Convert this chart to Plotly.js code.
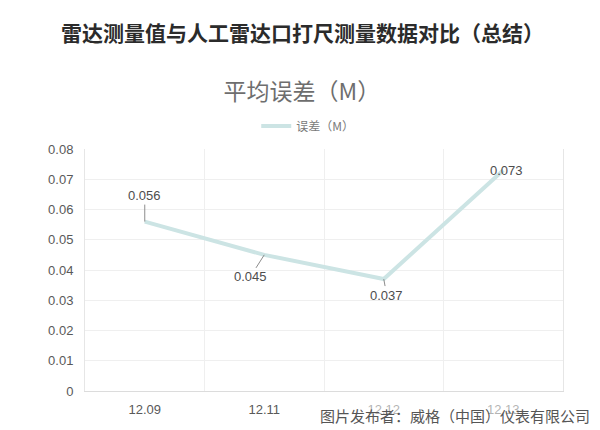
<!DOCTYPE html>
<html>
<head>
<meta charset="utf-8">
<script src="https://cdn.plot.ly/plotly-3.0.1.min.js"></script>
<style>html,body{margin:0;padding:0;background:#fff;}#chart{width:600px;height:430px;}</style>
</head>
<body>
<div id="chart"></div>
<script>
const categories = ["12.09", "12.11", "12.12", "12.13"];
const errorValues = [0.056, 0.045, 0.037, 0.073];
const yTickValues = [0, 0.01, 0.02, 0.03, 0.04, 0.05, 0.06, 0.07, 0.08];
const yTickLabels = ["0", "0.01", "0.02", "0.03", "0.04", "0.05", "0.06", "0.07", "0.08"];
const seriesName = "误差（M）";
const chartTitle = "平均误差（M）";
const headerText = "雷达测量值与人工雷达口打尺测量数据对比（总结）";
const watermarkText = "图片发布者：威格（中国）仪表有限公司";
const labelOffsets = [[0, -26], [-14, 22], [3, 16], [0, 0]];

const font = "'Noto Sans CJK SC', 'Liberation Sans', Arial, sans-serif";

const trace = {
  type: "scatter",
  mode: "lines",
  x: categories,
  y: errorValues,
  name: seriesName,
  line: {color: "#cce4e4", width: 4},
  hoverinfo: "none"
};

const annotations = errorValues.map((v, i) => {
  const [ax, ay] = labelOffsets[i];
  const hasArrow = !(ax === 0 && ay === 0);
  return {
    x: categories.indexOf(categories[i]), y: v, xref: "x", yref: "y",
    text: String(v),
    showarrow: hasArrow,
    arrowhead: 0, arrowwidth: 1, arrowcolor: "#8c8c8c",
    ax: ax, ay: ay,
    yshift: 0,
    xshift: hasArrow ? 0 : 3,
    font: {family: "'Liberation Sans', Arial, sans-serif", size: 13, color: "#4d4d4d"}
  };
});

annotations.push({
  xref: "paper", yref: "paper", x: 0.454, y: 1.483,
  xanchor: "center", yanchor: "middle", showarrow: false,
  text: "<b>" + headerText + "</b>",
  font: {family: font, size: 21, color: "#2b2b2b"}
});
annotations.push({
  xref: "paper", yref: "paper", x: 0.774, y: -0.103,
  xanchor: "center", yanchor: "middle", showarrow: false,
  text: watermarkText,
  bgcolor: "rgba(255,255,255,0.55)",
  font: {family: font, size: 15, color: "#555555"}
});

const layout = {
  width: 600, height: 430,
  margin: {l: 85, r: 37, t: 149, b: 39},
  paper_bgcolor: "#ffffff", plot_bgcolor: "#ffffff",
  title: {
    text: chartTitle,
    x: 0.503, xref: "container", xanchor: "center",
    y: 0.786, yref: "container", yanchor: "middle",
    font: {family: font, size: 23, color: "#6e6e6e"}
  },
  showlegend: true,
  legend: {
    orientation: "h", x: 0.466, xanchor: "center", y: 1.095, yanchor: "middle",
    font: {family: font, size: 12, color: "#7a7a7a"},
    itemwidth: 30, bgcolor: "rgba(0,0,0,0)"
  },
  xaxis: {
    type: "category",
    range: [-0.5, 3.5],
    tickson: "boundaries",
    showgrid: true, gridcolor: "#efefef", gridwidth: 1,
    showline: true, linecolor: "#dcdcdc", linewidth: 1,
    ticks: "", ticklabelstandoff: 6,
    tickfont: {family: "'Liberation Sans', Arial, sans-serif", size: 13, color: "#595959"},
    fixedrange: true, zeroline: false
  },
  yaxis: {
    range: [0, 0.08],
    tickvals: yTickValues, ticktext: yTickLabels,
    showgrid: true, gridcolor: "#efefef", gridwidth: 1,
    showline: true, linecolor: "#e6e6e6", linewidth: 1, mirror: true,
    ticks: "", ticklabelstandoff: 8,
    tickfont: {family: "'Liberation Sans', Arial, sans-serif", size: 13, color: "#595959"},
    zeroline: false, fixedrange: true
  },
  annotations: annotations
};

Plotly.newPlot("chart", [trace], layout, {displayModeBar: false, staticPlot: true});
</script>
</body>
</html>
